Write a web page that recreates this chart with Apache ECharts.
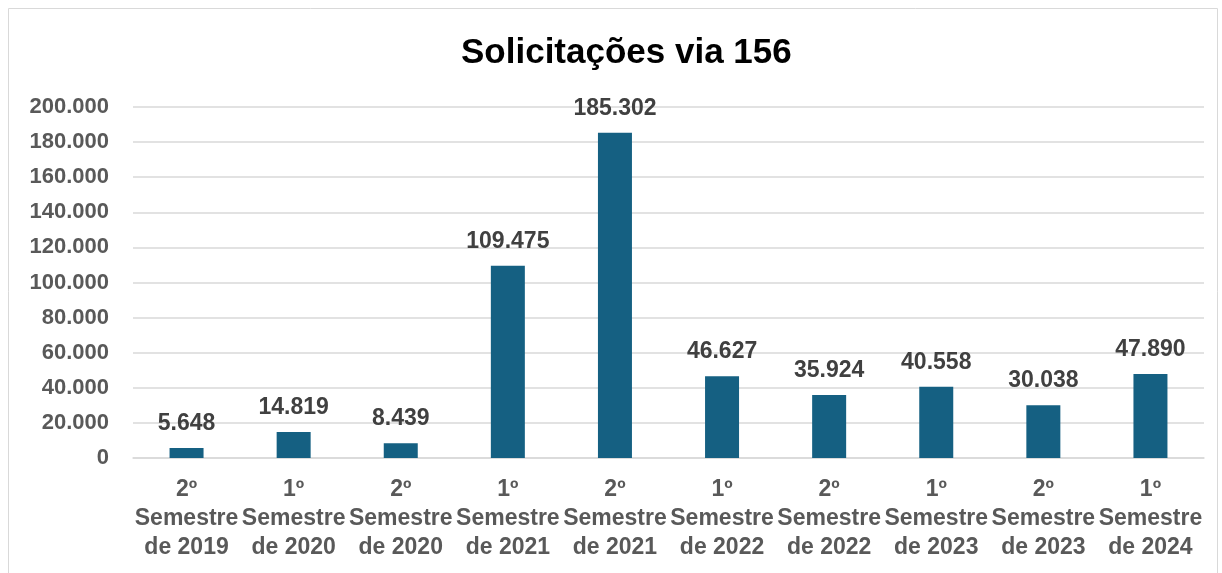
<!DOCTYPE html>
<html>
<head>
<meta charset="utf-8">
<script src="https://cdn.jsdelivr.net/npm/echarts@6/dist/echarts.min.js"></script>
<style>
html,body{margin:0;padding:0;background:#fff;}
#main{width:1222px;height:573px;}
</style>
</head>
<body>
<div id="main"></div>
<script>
const categories = ["2º\nSemestre\nde 2019","1º\nSemestre\nde 2020","2º\nSemestre\nde 2020","1º\nSemestre\nde 2021","2º\nSemestre\nde 2021","1º\nSemestre\nde 2022","2º\nSemestre\nde 2022","1º\nSemestre\nde 2023","2º\nSemestre\nde 2023","1º\nSemestre\nde 2024"];
const values = [5648, 14819, 8439, 109475, 185302, 46627, 35924, 40558, 30038, 47890];
const titleText = "Solicitações via 156";

function fmt(v){ return String(v).replace(/\B(?=(\d{3})+(?!\d))/g, "."); }

const chart = echarts.init(document.getElementById('main'));
chart.setOption({
  animation:false,
  graphic:[{type:'rect',shape:{x:8.5,y:8.5,width:1209,height:600},style:{fill:'none',stroke:'#d9d9d9',lineWidth:1},silent:true}],
  title:{text:titleText,left:456,top:31,textStyle:{fontFamily:'Liberation Sans',fontWeight:'bold',fontSize:35,color:'#000'}},
  grid:{left:133,right:18,top:107,bottom:115,containLabel:false},
  xAxis:{type:'category',data:categories,
    axisLine:{lineStyle:{color:'#d9d9d9',width:1.5}},axisTick:{show:false},
    axisLabel:{interval:0,margin:17,lineHeight:29,fontFamily:'Liberation Sans',fontWeight:'bold',fontSize:23,color:'#595959'}},
  yAxis:{type:'value',min:0,max:200000,interval:20000,
    axisLine:{show:false},axisTick:{show:false},
    splitLine:{lineStyle:{color:'#d9d9d9',width:1.5}},
    axisLabel:{margin:24,formatter:fmt,fontFamily:'Liberation Sans',fontWeight:'bold',fontSize:22,color:'#595959'}},
  series:[{type:'bar',data:values,barWidth:34,itemStyle:{color:'#156082'},
    label:{show:true,position:'top',distance:13,formatter:p=>fmt(p.value),fontFamily:'Liberation Sans',fontWeight:'bold',fontSize:23,color:'#404040'}}]
});
</script>
</body>
</html>
